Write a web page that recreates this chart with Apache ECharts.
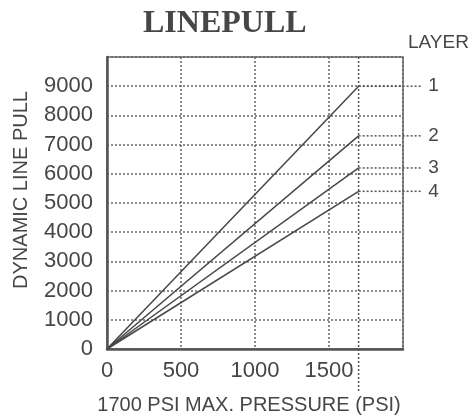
<!DOCTYPE html>
<html><head><meta charset="utf-8">
<script src="https://cdn.jsdelivr.net/npm/echarts@6/dist/echarts.min.js"></script>
<style>html,body{margin:0;padding:0;background:#fff}#c{width:468px;height:420px}</style>
</head><body><div id="c"></div>
<script>
const xTicks = [0, 500, 1000, 1500];
const yTicks = [0, 1000, 2000, 3000, 4000, 5000, 6000, 7000, 8000, 9000];
const maxPressure = 1700;
const layerNames = ['1', '2', '3', '4'];
const layerPull = [9000, 7300, 6200, 5400];
const leaderEnd = 2130;
const refLineBottom = -1500;

const ink = '#464646';
const font = 'Liberation Sans';
const series = layerNames.map((n, i) => ({
  type: 'line', name: 'Layer ' + n, data: [[0, 0], [maxPressure, layerPull[i]]],
  symbol: 'none', lineStyle: { color: ink, width: 1.5 }, z: 5
}));

const chart = echarts.init(document.getElementById('c'));
chart.setOption({
  animation: false,
  title: [
    { text: 'LINEPULL', left: 138, top: 3,
      textStyle: { fontFamily: 'Liberation Serif', fontWeight: 'bold', fontSize: 32, color: ink } },
    { text: 'LAYER', left: 403, top: 28,
      textStyle: { fontFamily: font, fontWeight: 'normal', fontSize: 19, color: ink } }
  ],
  grid: { left: 107, right: 65, top: 57, bottom: 68, show: true, borderColor: '#666', borderWidth: 1.5 },
  xAxis: {
    type: 'value', min: 0, max: 2000, interval: 500,
    name: '1700 PSI MAX. PRESSURE (PSI)', nameLocation: 'middle', nameGap: 46,
    nameTextStyle: { fontFamily: font, fontSize: 20, color: ink, padding: [0, 12, 0, 0] },
    axisLine: { lineStyle: { color: '#555', width: 2.5 } },
    axisTick: { show: false },
    axisLabel: { fontFamily: font, fontSize: 22, color: ink, margin: 11,
      formatter: v => xTicks.includes(v) ? String(v) : '' },
    splitLine: { lineStyle: { color: '#666', width: 1.5, type: [2, 2] } }
  },
  yAxis: {
    type: 'value', min: 0, max: 10000, interval: 1000,
    name: 'DYNAMIC LINE PULL', nameLocation: 'middle', nameGap: 76, nameRotate: 90,
    nameTextStyle: { fontFamily: font, fontSize: 20, color: ink, padding: [0, 0, 0, 26] },
    axisLine: { show: true, lineStyle: { color: '#555', width: 2.5 } },
    axisTick: { show: false },
    axisLabel: { fontFamily: font, fontSize: 22, color: ink, margin: 14, padding: [0, 0, 12, 0],
      formatter: v => yTicks.includes(v) ? String(v) : '' },
    splitLine: { lineStyle: { color: '#666', width: 1.5, type: [2, 2] } }
  },
  series: series
});

const dotted = { stroke: '#555', lineWidth: 1.5, lineDash: [2, 2] };
const graphics = [];
const refTop = chart.convertToPixel({ gridIndex: 0 }, [maxPressure, 10000]);
const refBot = chart.convertToPixel({ gridIndex: 0 }, [maxPressure, refLineBottom]);
graphics.push({ type: 'line', shape: { x1: refTop[0], y1: refTop[1], x2: refBot[0], y2: refBot[1] }, style: dotted, z: 3 });
layerNames.forEach((n, i) => {
  const a = chart.convertToPixel({ gridIndex: 0 }, [maxPressure, layerPull[i]]);
  const b = chart.convertToPixel({ gridIndex: 0 }, [leaderEnd, layerPull[i]]);
  graphics.push({ type: 'line', shape: { x1: a[0], y1: a[1], x2: b[0], y2: b[1] }, style: dotted, z: 3 });
  graphics.push({ type: 'text', x: b[0] + 6, y: b[1], z: 4,
    style: { text: n, fill: ink, font: '19px "Liberation Sans"', verticalAlign: 'middle', align: 'left' } });
});
chart.setOption({ graphic: graphics });
</script></body></html>
